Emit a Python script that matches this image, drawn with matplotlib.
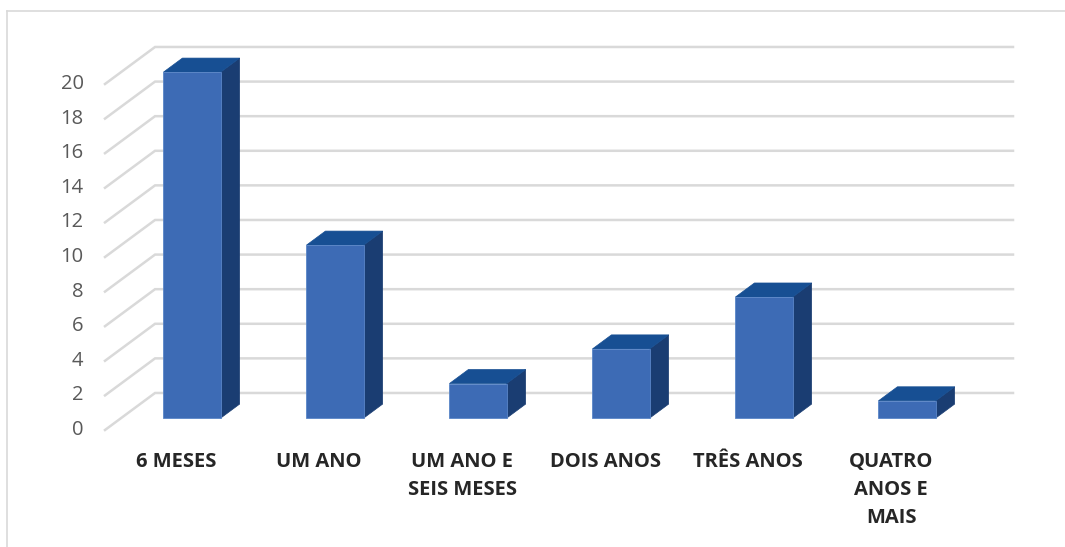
import matplotlib.pyplot as plt
from matplotlib.patches import Polygon

categories = ["6 MESES", "UM ANO", "UM ANO E\nSEIS MESES", "DOIS ANOS", "TRÊS ANOS", "QUATRO\nANOS E\nMAIS"]
values = [20, 10, 2, 4, 7, 1]
yticks = list(range(0, 21, 2))

FRONT = "#3d6bb5"
TOP = "#174f93"
SIDE = "#1a3d72"
GRID = "#d9d9d9"

# fake 3D projection: depth z in [0, 1] shifts points by (DX, DY)
DX = 0.35     # in category units
DY = 2.14     # in value units
BAR_W = 0.40
Z0, Z1 = 0.32, 0.70


def proj(x, y, z):
    return (x + z * DX, y + z * DY)


fig = plt.figure(figsize=(10.65, 5.47), dpi=100)
ax = fig.add_axes([0, 0, 1, 1])
ax.set_xlim(-176 / 143, (1065 - 176) / 143)
ax.set_ylim((430 - 547) / 17.3, 430 / 17.3)
ax.axis("off")

# chart area border (top and left)
fig.add_artist(plt.Line2D([7 / 1065, 7 / 1065], [0, 1 - 11 / 547], color=GRID, lw=1.2))
fig.add_artist(plt.Line2D([7 / 1065, 1], [1 - 11 / 547, 1 - 11 / 547], color=GRID, lw=1.2))

# gridlines: slanted on the side wall, flat on the back wall
x_left = (105 - 176) / 143
x_right = (1013 - 176) / 143 - DX
for v in yticks:
    p0 = proj(x_left, v, 0)
    p1 = proj(x_left, v, 1)
    p2 = proj(x_right, v, 1)
    ax.plot([p0[0], p1[0], p2[0]], [p0[1], p1[1], p2[1]], color=GRID, lw=1.8,
            solid_joinstyle="miter", zorder=1)
    ax.text(x_left - 0.15, v, str(v), ha="right", va="center", fontsize=14.5,
            color="#595959", family="Open Sans")

for i, (lab, val) in enumerate(zip(categories, values)):
    xl, xr = i - BAR_W / 2, i + BAR_W / 2
    front = [proj(xl, 0, Z0), proj(xr, 0, Z0), proj(xr, val, Z0), proj(xl, val, Z0)]
    side = [proj(xr, 0, Z0), proj(xr, 0, Z1), proj(xr, val, Z1), proj(xr, val, Z0)]
    top = [proj(xl, val, Z0), proj(xr, val, Z0), proj(xr, val, Z1), proj(xl, val, Z1)]
    ax.add_patch(Polygon(side, closed=True, facecolor=SIDE, edgecolor=SIDE, lw=0.5, zorder=3))
    ax.add_patch(Polygon(top, closed=True, facecolor=TOP, edgecolor=TOP, lw=0.5, zorder=3))
    ax.add_patch(Polygon(front, closed=True, facecolor=FRONT, edgecolor="#5a86c8", lw=0.6, zorder=4))
    ax.text(i, -1.25, lab, ha="center", va="top", fontsize=14.5, fontweight="bold",
            color="#262626", family="Open Sans", linespacing=1.55)

plt.savefig("out.png", dpi=100)
